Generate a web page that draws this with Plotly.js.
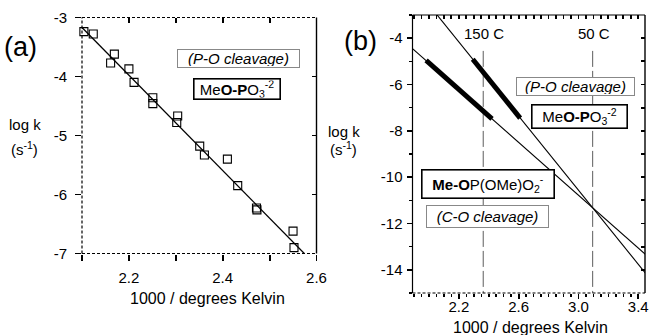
<!DOCTYPE html>
<html>
<head>
<meta charset="utf-8">
<script src="https://cdn.plot.ly/plotly-3.0.1.min.js"></script>
<style>html,body{margin:0;padding:0;background:#fff;}#chart{width:651px;height:335px;}</style>
</head>
<body>
<div id="chart"></div>
<script>
// ---------- Panel (a) data ----------
const aX = [2.104, 2.124, 2.161, 2.169, 2.200, 2.211, 2.251, 2.251, 2.304, 2.302, 2.351, 2.361, 2.410, 2.432, 2.472, 2.473, 2.550, 2.552];
const aY = [-3.24, -3.28, -3.77, -3.62, -3.87, -4.10, -4.36, -4.46, -4.67, -4.78, -5.18, -5.33, -5.40, -5.85, -6.23, -6.26, -6.62, -6.90];
const aFitX = [2.100, 2.574];
const aFitY = [-3.17, -7.00];
const aXTickVals = [2.1, 2.2, 2.3, 2.4, 2.5, 2.6];
const aXTickText = [' ', '2.2', ' ', '2.4', ' ', '2.6'];
const aYTickVals = [-3, -4, -5, -6, -7];
const aYTickText = ['-3', '-4', '-5', '-6', '-7'];

// ---------- Panel (b) data ----------
const bPOx = [2.041, 3.460];      // P-O cleavage line
const bPOy = [-2.89, -14.24];
const bCOx = [1.890, 3.460];      // C-O cleavage line
const bCOy = [-4.45, -13.40];
const bPOThickX = [2.293, 2.610];
const bPOThickY = [-4.91, -7.45];
const bCOThickX = [1.981, 2.422];
const bCOThickY = [-4.96, -7.48];
const b150X = [2.363, 2.363];     // 150 C
const b50X = [3.095, 3.095];      // 50 C
const bVertY = [-4.55, -15];
const bXTickVals = [2.2, 2.6, 3.0, 3.4];
const bXTickText = ['2.2', '2.6', '3.0', '3.4'];
const bYTickVals = [-4, -6, -8, -10, -12, -14];
const bYTickText = ['-4', '-6', '-8', '-10', '-12', '-14'];

const W = 651, H = 335;
const px = v => v / W;
const py = v => 1 - v / H;
const FONT = 'Liberation Sans, Arial, Helvetica, sans-serif';

const traces = [
  {x: aFitX, y: aFitY, xaxis: 'x3', yaxis: 'y3', mode: 'lines', line: {color: '#000', width: 1.2}},
  {x: aX, y: aY, xaxis: 'x', yaxis: 'y', mode: 'markers', cliponaxis: false,
   marker: {symbol: 'square-open', size: 8, color: '#000', line: {width: 1.1, color: '#000'}}},
  {x: b150X, y: bVertY, xaxis: 'x2', yaxis: 'y2', mode: 'lines', line: {color: '#333', width: 0.8, dash: '16px,4px'}},
  {x: b50X, y: bVertY, xaxis: 'x2', yaxis: 'y2', mode: 'lines', line: {color: '#333', width: 0.8, dash: '16px,4px'}},
  {x: bPOx, y: bPOy, xaxis: 'x2', yaxis: 'y2', mode: 'lines', line: {color: '#000', width: 1.1}},
  {x: bCOx, y: bCOy, xaxis: 'x4', yaxis: 'y4', mode: 'lines', line: {color: '#000', width: 1.1}},
  {x: bPOThickX, y: bPOThickY, xaxis: 'x2', yaxis: 'y2', mode: 'lines', line: {color: '#000', width: 5}},
  {x: bCOThickX, y: bCOThickY, xaxis: 'x2', yaxis: 'y2', mode: 'lines', line: {color: '#000', width: 5}}
];

const TF = {family: FONT, size: 15, color: '#000'};
const aXDom = [px(82), px(316.5)];
const aYDom = [py(253.5), py(17.5)];
const bXDom = [px(412.5), px(645)];
const bYDom = [py(293), py(15)];
const aXR = [2.1, 2.6], aYR = [-7, -3];
const bXR = [1.89, 3.445], bYR = [-15, -3];

function ax(extra) {
  return Object.assign({showgrid: false, zeroline: false, tickcolor: '#000', tickwidth: 1.8, tickfont: TF}, extra);
}
function box(text, cx, cy, w, h, border, bw, italic) {
  return {xref: 'paper', yref: 'paper', x: px(cx), y: py(cy), xanchor: 'center', yanchor: 'middle',
    text: italic ? '<i>' + text + '</i>' : text, showarrow: false, width: w, height: h,
    bgcolor: '#fff', bordercolor: border, borderwidth: bw, borderpad: 1,
    font: {family: FONT, size: 15, color: '#000'}};
}
function label(text, cx, cy, size) {
  return {xref: 'paper', yref: 'paper', x: px(cx), y: py(cy), xanchor: 'center', yanchor: 'middle',
    text: text, showarrow: false, font: {family: FONT, size: size, color: '#000'}};
}

const layout = {
  width: W, height: H, margin: {l: 0, r: 0, t: 0, b: 0},
  paper_bgcolor: '#fff', plot_bgcolor: 'rgba(0,0,0,0)', showlegend: false,
  xaxis: ax({domain: aXDom, range: aXR, anchor: 'y', tickvals: aXTickVals, ticktext: aXTickText,
    ticks: 'outside', ticklen: 6, ticklabelstandoff: 4}),
  yaxis: ax({domain: aYDom, range: aYR, anchor: 'x', tickvals: aYTickVals, ticktext: aYTickText,
    ticks: 'outside', ticklen: 6, ticklabelstandoff: 5}),
  xaxis3: ax({overlaying: 'x', side: 'top', anchor: 'y', range: aXR, tick0: 2.1, dtick: 0.1,
    ticks: 'inside', ticklen: 5, showticklabels: false}),
  yaxis3: ax({overlaying: 'y', side: 'right', anchor: 'x', range: aYR, tick0: -7, dtick: 1,
    ticks: 'inside', ticklen: 5, showticklabels: false}),
  xaxis2: ax({domain: bXDom, range: bXR, anchor: 'y2', tickvals: bXTickVals, ticktext: bXTickText,
    ticks: 'outside', ticklen: 5, ticklabelstandoff: -5,
    minor: {ticks: 'outside', tick0: 1.9, dtick: 0.05, ticklen: 3, tickcolor: '#000', tickwidth: 1.5}}),
  yaxis2: ax({domain: bYDom, range: bYR, anchor: 'x2', tickvals: bYTickVals, ticktext: bYTickText,
    ticks: 'outside', ticklen: 5, ticklabelstandoff: 1,
    minor: {ticks: 'outside', dtick: 1, ticklen: 3, tickcolor: '#000', tickwidth: 1.5}}),
  xaxis4: ax({overlaying: 'x2', side: 'top', anchor: 'y2', range: bXR, tick0: 1.9, dtick: 0.05,
    ticks: 'inside', ticklen: 4, showticklabels: false}),
  yaxis4: ax({overlaying: 'y2', side: 'right', anchor: 'x2', range: bYR, tick0: -15, dtick: 1,
    ticks: 'inside', ticklen: 4, showticklabels: false}),
  shapes: [
    {type: 'line', xref: 'paper', yref: 'paper', x0: aXDom[0], x1: aXDom[0], y0: aYDom[0], y1: aYDom[1], line: {color: '#000', width: 1.2, dash: '3px,2px'}},
    {type: 'line', xref: 'paper', yref: 'paper', x0: aXDom[0], x1: aXDom[1], y0: aYDom[1], y1: aYDom[1], line: {color: '#000', width: 1.2, dash: '3px,2px'}},
    {type: 'line', xref: 'paper', yref: 'paper', x0: aXDom[0], x1: aXDom[1], y0: aYDom[0], y1: aYDom[0], line: {color: '#000', width: 1.2, dash: '3px,2px'}},
    {type: 'line', xref: 'paper', yref: 'paper', x0: aXDom[1], x1: aXDom[1], y0: aYDom[0], y1: aYDom[1], line: {color: '#000', width: 1.4}},
    {type: 'line', xref: 'paper', yref: 'paper', x0: bXDom[0], x1: bXDom[0], y0: bYDom[0], y1: bYDom[1], line: {color: '#000', width: 1.2}},
    {type: 'line', xref: 'paper', yref: 'paper', x0: bXDom[0], x1: bXDom[1], y0: bYDom[1], y1: bYDom[1], line: {color: '#000', width: 1.2}},
    {type: 'line', xref: 'paper', yref: 'paper', x0: bXDom[0], x1: bXDom[1], y0: bYDom[0], y1: bYDom[0], line: {color: '#000', width: 1.2, dash: '3px,2px'}},
    {type: 'line', xref: 'paper', yref: 'paper', x0: bXDom[1], x1: bXDom[1], y0: bYDom[0], y1: bYDom[1], line: {color: '#000', width: 1.4}}
  ],
  annotations: [
    label('(a)', 20, 47, 27),
    label('log k', 24.5, 125, 15),
    label('(s<sup>-1</sup>)', 24, 148, 15),
    label('1000 / degrees Kelvin', 207, 298, 16),
    box('(P-O cleavage)', 238.5, 58.5, 119, 15, '#888', 1, true),
    box('Me<b>O-P</b>O<sub>3</sub><sup>-2</sup>', 236.5, 88.5, 83, 17, '#000', 1.6, false),
    label('(b)', 360, 41, 27),
    label('log k', 344, 131.5, 15),
    label('(s<sup>-1</sup>)', 343, 148, 15),
    label('1000 / degrees Kelvin', 530, 327, 16),
    label('150 C', 483.5, 33, 15),
    label('50 C', 594, 33, 15),
    box('(P-O cleavage)', 575.5, 86.4, 115, 15, '#888', 1, true),
    box('Me<b>O-P</b>O<sub>3</sub><sup>-2</sup>', 579, 117, 92, 20, '#000', 1.6, false),
    box('<b>Me-O</b>P(OMe)O<sub>2</sub><sup>-</sup>', 487.5, 183.8, 129, 25, '#000', 1.6, false),
    box('(C-O cleavage)', 487, 216.7, 119, 19, '#888', 1, true)
  ]
};

Plotly.newPlot('chart', traces, layout, {displayModeBar: false, staticPlot: true});
</script>
</body>
</html>
